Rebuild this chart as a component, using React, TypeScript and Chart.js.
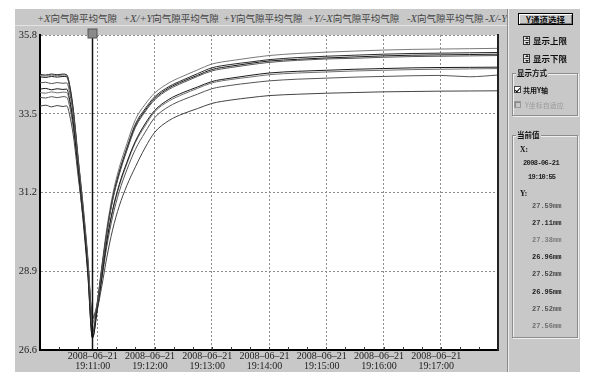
import React, { useEffect, useRef } from "react";
import { Chart, registerables } from "chart.js";

Chart.register(...registerables);

// ---------------- data ----------------
const DATE = "2008-06-21";
const BASE_TIME = "19:10:00"; // time at x = 0 s
const X_MIN = 0;
const X_MAX = 480;
const X_TICKS = [60, 120, 180, 240, 300, 360, 420];
const MINOR_STEP = 20;
const Y_TICKS = [26.6, 28.9, 31.2, 33.5, 35.8];
const CURSOR_T = 55;

const TIMES = [0, 6, 12, 18, 24, 28, 31, 35, 40, 45, 50, 55, 60, 65, 70, 76, 83, 91, 100, 110, 120, 135, 150, 165, 180, 200, 220, 240, 270, 300, 330, 360, 390, 420, 450, 480];

const S_PX = [34.40, 34.42, 34.38, 34.41, 34.39, 34.40, 34.13, 33.45, 32.15, 30.86, 29.36, 27.59, 27.95, 29.00, 30.00, 30.95, 31.72, 32.42, 33.10, 33.55, 33.90, 34.21, 34.41, 34.59, 34.75, 34.85, 34.93, 35.00, 35.06, 35.10, 35.12, 35.15, 35.17, 35.18, 35.19, 35.20];
const S_PXPY = [34.65, 34.63, 34.66, 34.64, 34.66, 34.64, 34.35, 33.59, 32.16, 30.73, 29.07, 27.11, 27.97, 29.05, 30.05, 31.02, 31.80, 32.50, 33.20, 33.64, 33.99, 34.29, 34.49, 34.67, 34.84, 34.94, 35.01, 35.08, 35.14, 35.18, 35.21, 35.24, 35.26, 35.27, 35.28, 35.29];
const S_PY = [34.62, 34.60, 34.63, 34.61, 34.63, 34.62, 34.33, 33.61, 32.23, 30.86, 29.26, 27.38, 28.00, 29.10, 30.15, 31.12, 31.92, 32.62, 33.33, 33.77, 34.10, 34.40, 34.60, 34.78, 34.95, 35.05, 35.13, 35.20, 35.26, 35.30, 35.33, 35.36, 35.38, 35.39, 35.40, 35.41];
const S_PYMX = [34.58, 34.56, 34.59, 34.57, 34.59, 34.58, 34.28, 33.51, 32.07, 30.62, 28.94, 26.96, 27.85, 28.95, 30.02, 30.98, 31.76, 32.45, 33.14, 33.59, 33.94, 34.25, 34.45, 34.62, 34.79, 34.89, 34.97, 35.04, 35.09, 35.13, 35.16, 35.19, 35.21, 35.22, 35.23, 35.24];
const S_MX = [33.72, 33.75, 33.70, 33.74, 33.71, 33.73, 33.47, 32.85, 31.67, 30.50, 29.13, 27.52, 27.80, 28.50, 29.30, 30.10, 30.80, 31.40, 31.95, 32.50, 32.95, 33.30, 33.50, 33.65, 33.80, 33.90, 33.97, 34.03, 34.07, 34.10, 34.12, 34.14, 34.15, 34.16, 34.165, 34.17];
const S_MXMY = [34.22, 34.24, 34.20, 34.23, 34.21, 34.22, 33.93, 33.20, 31.82, 30.44, 28.84, 26.95, 27.75, 28.75, 29.78, 30.68, 31.43, 32.08, 32.70, 33.20, 33.59, 33.92, 34.12, 34.28, 34.44, 34.54, 34.62, 34.69, 34.74, 34.77, 34.80, 34.82, 34.84, 34.85, 34.855, 34.86];
const S_MY = [33.98, 33.96, 34.00, 33.97, 34.00, 33.98, 33.72, 33.08, 31.85, 30.62, 29.20, 27.52, 27.85, 28.72, 29.62, 30.48, 31.22, 31.86, 32.46, 32.95, 33.38, 33.71, 33.91, 34.07, 34.23, 34.33, 34.40, 34.46, 34.51, 34.54, 34.57, 34.59, 34.61, 34.62, 34.58, 34.63];
const S_MYPX = [34.12, 34.10, 34.14, 34.11, 34.13, 34.12, 33.86, 33.20, 31.96, 30.71, 29.27, 27.56, 27.90, 28.80, 29.75, 30.63, 31.38, 32.03, 32.66, 33.14, 33.55, 33.87, 34.07, 34.24, 34.40, 34.50, 34.57, 34.64, 34.69, 34.72, 34.75, 34.77, 34.79, 34.80, 34.81, 34.82];

const SERIES_DIRS = ["+X", "+X/+Y", "+Y", "+Y/-X", "-X", "-X/-Y", "-Y", "-Y/+X"];
const SERIES_SUFFIX = "向气隙平均气隙";
const SERIES_VALUES = [S_PX, S_PXPY, S_PY, S_PYMX, S_MX, S_MXMY, S_MY, S_MYPX];
const SERIES_COLORS = ["#555555", "#2a2a2a", "#7a7a7a", "#1a1a1a", "#444444", "#1a1a1a", "#555555", "#707070"];

// ---------------- layout / style ----------------
const GRAY = "#c8c8c8";
const LEGEND_LEFT = [37, 123, 223, 307, 407, 485, 580, 680];
const SERIF = "'Liberation Serif', 'Times New Roman', serif";
const CJK = "'Noto Sans CJK SC', sans-serif";
const MONO = "'Liberation Mono', 'DejaVu Sans Mono', monospace";

function parseTime(s: string) {
  const [h, m, sec] = s.split(":").map(Number);
  return h * 3600 + m * 60 + sec;
}
function fmtTime(t: number) {
  const s = parseTime(BASE_TIME) + Math.round(t);
  const hh = Math.floor(s / 3600);
  const mm = Math.floor((s % 3600) / 60);
  const ss = s % 60;
  return [hh, mm, ss].map((n) => String(n).padStart(2, "0")).join(":");
}

const abs = (left: number, top: number, extra: any = {}): any => ({ position: "absolute", left, top, ...extra });

function Spinner({ left, top }: { left: number; top: number }) {
  return (
    <div style={abs(left, top, { width: 7, height: 9, boxSizing: "border-box", border: "1px solid #333", background: "#e6e6e6" })}>
      <div style={abs(1, 0, { width: 0, height: 0, borderLeft: "2px solid transparent", borderRight: "2px solid transparent", borderBottom: "2px solid #111" })} />
      <div style={abs(0, 3, { width: 5, height: 1, background: "#555" })} />
      <div style={abs(1, 5, { width: 0, height: 0, borderLeft: "2px solid transparent", borderRight: "2px solid transparent", borderTop: "2px solid #111" })} />
    </div>
  );
}

function Label({ left, cy, size, text, weight = 700, color = "#111", family = CJK, spacing = 0 }: any) {
  return (
    <div style={abs(left, cy - 6, { lineHeight: "12px", fontSize: size, fontWeight: weight, color, fontFamily: family, whiteSpace: "nowrap", letterSpacing: spacing })}>{text}</div>
  );
}

export default function App() {
  const ref = useRef<HTMLCanvasElement>(null);
  const cursorIdx = TIMES.indexOf(CURSOR_T);

  useEffect(() => {
    const canvas = ref.current!;
    const bgPlugin = {
      id: "bgPlugin",
      beforeDraw(c: any) {
        const { ctx, chartArea: a } = c;
        ctx.save();
        ctx.fillStyle = "#ffffff";
        ctx.fillRect(a.left, a.top, a.right - a.left, a.bottom - a.top);
        ctx.restore();
      },
    };
    const overlay = {
      id: "overlay",
      afterDraw(c: any) {
        const { ctx, chartArea: a } = c;
        const x = c.scales.x;
        ctx.save();
        ctx.strokeStyle = "#222";
        ctx.lineWidth = 2;
        ctx.beginPath();
        ctx.moveTo(a.right, a.top - 1);
        ctx.lineTo(a.right, a.bottom + 1);
        ctx.stroke();
        ctx.lineWidth = 1;
        ctx.strokeStyle = "#333";
        for (let t = X_MIN + MINOR_STEP; t < X_MAX; t += MINOR_STEP) {
          const px = Math.round(x.getPixelForValue(t)) + 0.5;
          ctx.beginPath();
          ctx.moveTo(px, a.bottom);
          ctx.lineTo(px, a.bottom - 3);
          ctx.stroke();
        }
        const cx = Math.round(x.getPixelForValue(CURSOR_T)) + 0.5;
        ctx.strokeStyle = "#111";
        ctx.lineWidth = 1.5;
        ctx.beginPath();
        ctx.moveTo(cx, a.top);
        ctx.lineTo(cx, a.bottom);
        ctx.stroke();
        ctx.fillStyle = "#8a8a8a";
        ctx.fillRect(cx - 4.5, a.top - 6, 9, 9);
        ctx.strokeStyle = "#555";
        ctx.lineWidth = 1;
        ctx.strokeRect(cx - 4.5, a.top - 6, 9, 9);
        ctx.restore();
      },
    };

    const chart = new Chart(canvas, {
      type: "line",
      data: {
        datasets: SERIES_VALUES.map((vals, i) => ({
          label: SERIES_DIRS[i] + SERIES_SUFFIX,
          data: TIMES.map((t, j) => ({ x: t, y: vals[j] })),
          borderColor: SERIES_COLORS[i],
          borderWidth: 1,
          pointRadius: 0,
          cubicInterpolationMode: "monotone",
          fill: false,
        })),
      },
      options: {
        animation: false,
        responsive: false,
        maintainAspectRatio: false,
        layout: { padding: { top: 10, right: 10, left: 0, bottom: 0 } },
        plugins: { legend: { display: false }, tooltip: { enabled: false } },
        scales: {
          x: {
            type: "linear",
            min: X_MIN,
            max: X_MAX,
            afterBuildTicks: (s: any) => {
              s.ticks = X_TICKS.map((v) => ({ value: v }));
            },
            afterFit: (s: any) => {
              s.height = 22;
            },
            grid: { color: "#8c8c8c", lineWidth: 1, drawTicks: false },
            border: { display: true, color: "#000", width: 2, dash: [2, 2] },
            ticks: {
              autoSkip: false,
              maxRotation: 0,
              padding: 2,
              labelOffset: -4.5,
              color: "#222",
              font: { family: SERIF, size: 10, lineHeight: 0.95 },
              callback: (v: any) => [DATE.replace(/-/g, "–"), fmtTime(Number(v))],
            },
          },
          y: {
            type: "linear",
            min: Y_TICKS[0],
            max: Y_TICKS[Y_TICKS.length - 1],
            afterBuildTicks: (s: any) => {
              s.ticks = Y_TICKS.map((v) => ({ value: v }));
            },
            afterFit: (s: any) => {
              s.width = 25;
            },
            grid: { color: "#8c8c8c", lineWidth: 1, drawTicks: false },
            border: { display: true, color: "#000", width: 2, dash: [2, 2] },
            ticks: {
              padding: 3,
              color: "#222",
              font: { family: SERIF, size: 10.5 },
              callback: (v: any) => Number(v).toFixed(1),
            },
          },
        },
      } as any,
      plugins: [bgPlugin, overlay],
    });
    return () => chart.destroy();
  }, []);

  return (
    <div style={{ position: "absolute", left: 0, top: 0, width: 609, height: 384, background: "#fff", overflow: "hidden" }}>
      {/* gray window */}
      <div style={abs(15, 9, { width: 565, height: 363, background: GRAY })} />
      {/* light separator under legend */}
      <div style={abs(15, 25, { width: 492, height: 1, background: "#e4e4e4" })} />
      {/* legend row */}
      <div style={abs(15, 10, { width: 492, height: 13, overflow: "hidden" })}>
        {SERIES_DIRS.map((d, i) => (
          <div key={i} style={abs(LEGEND_LEFT[i] - 15, 0, { whiteSpace: "nowrap", lineHeight: "13px", color: "#444" })}>
            <span style={{ fontFamily: SERIF, fontStyle: "italic", fontSize: 10.5 }}>{d}</span>
            <span style={{ fontFamily: CJK, fontSize: 9.5 }}>{SERIES_SUFFIX}</span>
          </div>
        ))}
      </div>
      {/* chart */}
      <div style={abs(15, 25, { width: 493, height: 347 })}>
        <canvas ref={ref} width={493} height={347} style={{ width: 493, height: 347, display: "block" }} />
      </div>
      {/* panel separator */}
      <div style={abs(507, 9, { width: 1, height: 363, background: "#8c8c8c" })} />
      <div style={abs(508, 9, { width: 1, height: 363, background: "#ececec" })} />

      {/* button */}
      <div
        style={abs(518, 13, {
          width: 55,
          height: 12,
          boxSizing: "border-box",
          border: "1px solid #000",
          boxShadow: "inset 1px 1px 0 #fff, inset -1px -1px 0 #7a7a7a",
          background: GRAY,
          textAlign: "center",
          lineHeight: "10px",
          fontSize: 8.5,
          fontWeight: 700,
          fontFamily: CJK,
          color: "#111",
        })}
      >
        Y通道选择
      </div>

      <Spinner left={523} top={36} />
      <Label left={533} cy={40} size={8.5} text="显示上限" />
      <Spinner left={523} top={54} />
      <Label left={533} cy={58} size={8.5} text="显示下限" />

      {/* group 1 */}
      <div style={abs(512, 73, { width: 66, height: 43, boxSizing: "border-box", border: "1px solid #8c8c8c", boxShadow: "1px 1px 0 #f0f0f0, inset 1px 1px 0 #f0f0f0" })} />
      <div style={abs(516, 68, { lineHeight: "10px", fontSize: 7.5, fontWeight: 700, fontFamily: CJK, background: GRAY, padding: "0 1px", color: "#111" })}>显示方式</div>
      <div style={abs(514, 86, { width: 7, height: 7, boxSizing: "border-box", border: "1px solid #444", background: "#fff" })}>
        <div style={abs(1.2, -0.5, { width: 2, height: 4, borderRight: "1.2px solid #000", borderBottom: "1.2px solid #000", transform: "rotate(40deg)" })} />
      </div>
      <Label left={523} cy={89.5} size={7} text="共用Y轴" />
      <div style={abs(514, 101, { width: 7, height: 7, boxSizing: "border-box", border: "1px solid #9a9a9a", boxShadow: "inset 1px 1px 0 #888" })} />
      <Label left={525} cy={104.5} size={7} text="Y坐标自适应" weight={400} color="#9a9a9a" />

      {/* group 2 */}
      <div style={abs(512, 135, { width: 66, height: 203, boxSizing: "border-box", border: "1px solid #8c8c8c", boxShadow: "1px 1px 0 #f0f0f0, inset 1px 1px 0 #f0f0f0" })} />
      <div style={abs(516, 130, { lineHeight: "10px", fontSize: 7.5, fontWeight: 700, fontFamily: CJK, background: GRAY, padding: "0 1px", color: "#111" })}>当前值</div>
      <Label left={520} cy={150} size={7.5} text="X:" family={SERIF} />
      <Label left={523} cy={163} size={7} text={DATE} family={MONO} color="#222" spacing={-0.6} />
      <Label left={528} cy={177} size={7} text={fmtTime(CURSOR_T)} family={MONO} color="#222" spacing={-0.8} />
      <Label left={520} cy={194} size={7.5} text="Y:" family={SERIF} />
      {SERIES_VALUES.map((vals, i) => (
        <Label
          key={i}
          left={532}
          cy={206 + i * 17.1}
          size={7}
          text={vals[cursorIdx].toFixed(2) + "mm"}
          family={MONO}
          weight={700}
          color={SERIES_COLORS[i]}
        />
      ))}
    </div>
  );
}
